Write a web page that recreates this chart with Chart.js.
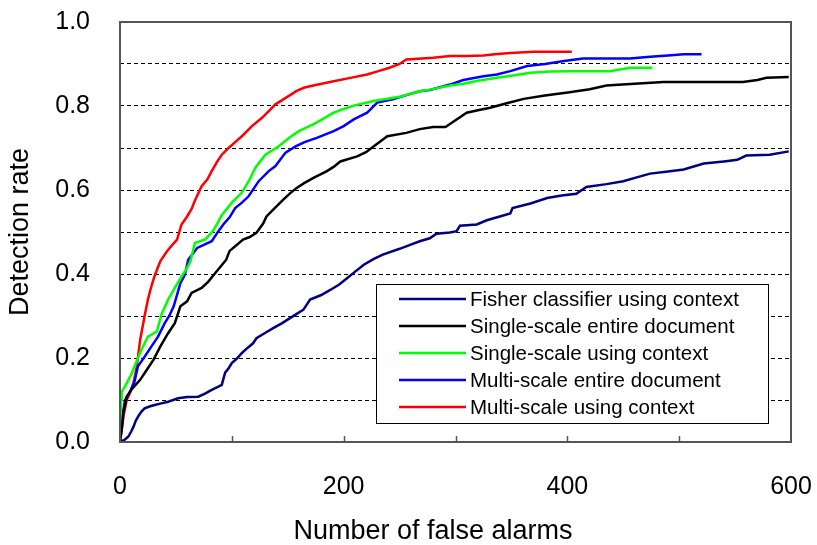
<!DOCTYPE html>
<html>
<head>
<meta charset="utf-8">
<script src="https://cdn.jsdelivr.net/npm/chart.js@4/dist/chart.umd.min.js"></script>
<style>
  body { margin: 0; background: #fff; }
  #wrap { width: 817px; height: 545px; }
</style>
</head>
<body>
<div id="wrap"><canvas id="roc_chart" width="817" height="545"></canvas></div>
<script>
// [false alarms, detection rate]
const fisherContext = [[0,0],[4,0.005],[7.5,0.013],[10,0.025],[12,0.036],[14,0.05],[16,0.06],[19,0.072],[22,0.08],[27,0.085],[31,0.088],[37,0.092],[43,0.096],[52,0.104],[60,0.107],[70,0.108],[76,0.115],[82,0.124],[88,0.132],[91,0.136],[94,0.165],[97,0.175],[100,0.188],[105,0.2],[109,0.212],[114,0.224],[119,0.235],[122,0.247],[130,0.26],[137,0.271],[145,0.283],[152,0.295],[158,0.305],[164,0.315],[170,0.339],[180,0.35],[188,0.362],[196,0.375],[203,0.39],[210,0.405],[218,0.422],[227,0.436],[235,0.446],[250,0.46],[260,0.47],[268,0.478],[277,0.485],[283,0.496],[295,0.499],[301,0.502],[304,0.515],[319,0.518],[328,0.528],[349,0.544],[351,0.557],[367,0.568],[382,0.581],[395,0.587],[408,0.591],[417,0.607],[435,0.614],[450,0.621],[462,0.63],[474,0.639],[490,0.644],[504,0.649],[522,0.663],[540,0.668],[552,0.672],[560,0.682],[581,0.684],[598,0.692]];
const singleEntire = [[0,0],[2,0.04],[3,0.069],[6,0.108],[10,0.124],[14,0.136],[18,0.148],[24,0.172],[30,0.196],[36,0.227],[43,0.259],[49,0.283],[54,0.323],[60,0.335],[64,0.355],[73,0.367],[79,0.382],[85,0.402],[90,0.418],[95,0.434],[98,0.455],[103,0.466],[110,0.482],[116,0.488],[122,0.498],[128,0.52],[131,0.537],[137,0.553],[146,0.577],[152,0.592],[158,0.605],[165,0.617],[173,0.629],[185,0.645],[191,0.655],[197,0.668],[212,0.68],[220,0.69],[227,0.704],[233,0.716],[239,0.728],[256,0.736],[268,0.745],[280,0.75],[291,0.75],[301,0.768],[310,0.784],[320,0.79],[331,0.796],[345,0.806],[361,0.817],[380,0.825],[402,0.833],[420,0.84],[435,0.849],[460,0.853],[486,0.857],[557,0.857],[570,0.862],[578,0.867],[598,0.869]];
const singleContext = [[0,0],[0.5,0.07],[1,0.1],[1.5,0.12],[4,0.13],[7.5,0.148],[10,0.16],[13,0.18],[16,0.2],[19,0.219],[25,0.251],[33,0.263],[37,0.303],[43,0.339],[48,0.362],[55,0.394],[59,0.41],[63,0.43],[67,0.474],[76,0.482],[83,0.502],[87,0.52],[91,0.54],[100,0.57],[109,0.594],[116,0.625],[121,0.653],[130,0.684],[136,0.694],[142,0.704],[151,0.724],[160,0.74],[174,0.758],[182,0.77],[191,0.784],[200,0.793],[209,0.801],[227,0.812],[250,0.822],[268,0.835],[277,0.839],[295,0.849],[307,0.853],[320,0.86],[337,0.867],[350,0.872],[367,0.879],[385,0.882],[402,0.883],[438,0.883],[456,0.891],[476,0.891]];
const multiEntire = [[0,0],[1,0.03],[2,0.06],[4.5,0.1],[9,0.12],[13,0.144],[16,0.18],[22,0.203],[28,0.227],[34,0.251],[40,0.283],[44,0.3],[48,0.323],[54,0.378],[58,0.398],[61,0.434],[69,0.462],[82,0.478],[88,0.502],[93,0.52],[98,0.535],[103,0.557],[109,0.57],[115,0.585],[124,0.621],[133,0.645],[139,0.657],[148,0.689],[157,0.704],[165,0.714],[176,0.724],[191,0.74],[200,0.752],[209,0.768],[221,0.784],[230,0.808],[244,0.816],[256,0.826],[268,0.835],[277,0.838],[295,0.851],[307,0.862],[325,0.871],[337,0.875],[349,0.883],[364,0.895],[380,0.9],[397,0.907],[414,0.913],[456,0.913],[474,0.917],[490,0.92],[504,0.923],[520,0.923]];
const multiContext = [[0,0],[1.5,0.028],[3,0.06],[6,0.1],[9,0.117],[12,0.14],[15,0.18],[18,0.243],[22,0.3],[25,0.34],[28,0.37],[31,0.396],[36,0.43],[42,0.454],[47,0.47],[51,0.482],[55,0.518],[60,0.537],[64,0.555],[67,0.575],[73,0.609],[78,0.625],[82,0.645],[87,0.668],[91,0.684],[97,0.7],[103,0.714],[109,0.728],[118,0.752],[127,0.772],[133,0.788],[139,0.804],[145,0.814],[151,0.824],[158,0.836],[165,0.844],[175,0.85],[191,0.859],[206,0.867],[221,0.875],[231,0.883],[241,0.891],[250,0.9],[256,0.911],[270,0.913],[280,0.915],[295,0.919],[310,0.919],[325,0.92],[335,0.923],[349,0.926],[370,0.929],[404,0.929]];

const seriesNames = ["Fisher classifier using context", "Single-scale entire document", "Single-scale using context", "Multi-scale entire document", "Multi-scale using context"];
const seriesColors = ["#000080", "#000000", "#00ff00", "#0000ff", "#ff0000"];
const seriesData = [fisherContext, singleEntire, singleContext, multiEntire, multiContext];

const FONT = "'Liberation Sans', Arial, sans-serif";

// frame round the plot + small inward ticks on the x axis
const framePlugin = {
    id: "frame",
    afterDatasetsDraw(chart) {
        const {ctx, chartArea: a, scales} = chart;
        ctx.save();
        ctx.strokeStyle = "#555";
        ctx.lineWidth = 1.5;
        ctx.beginPath();
        scales.x.ticks.forEach(t => {
            if (t.value <= 0 || t.value >= 600) return;
            const px = Math.round(scales.x.getPixelForValue(t.value)) + 0.5;
            ctx.moveTo(px, a.bottom);
            ctx.lineTo(px, a.bottom - 6);
        });
        ctx.stroke();
        ctx.lineWidth = 2;
        ctx.strokeRect(a.left, a.top, a.right - a.left, a.bottom - a.top);
        ctx.restore();
    }
};

// legend box inside the plot, bottom right
const boxLegend = {
    id: "boxLegend",
    afterDatasetsDraw(chart) {
        const {ctx, chartArea: a} = chart;
        const w = 392, h = 139;
        const x0 = a.right - 23 - w, y0 = a.bottom - 19 - h;
        ctx.save();
        ctx.fillStyle = "#fff";
        ctx.fillRect(x0, y0, w, h);
        ctx.strokeStyle = "#000";
        ctx.lineWidth = 1;
        ctx.strokeRect(x0 + 0.5, y0 + 0.5, w, h);
        ctx.font = "20.5px " + FONT;
        ctx.textBaseline = "middle";
        chart.data.datasets.forEach((ds, i) => {
            const y = y0 + 15 + i * 27;
            ctx.strokeStyle = ds.borderColor;
            ctx.lineWidth = 2.5;
            ctx.beginPath();
            ctx.moveTo(x0 + 23, y);
            ctx.lineTo(x0 + 90, y);
            ctx.stroke();
            ctx.fillStyle = "#000";
            ctx.fillText(ds.label, x0 + 94, y + 1);
        });
        ctx.restore();
    }
};

let ctxEl = document.getElementById("roc_chart");
let rocChart = new Chart(ctxEl, {
    type: "line",
    data: {
        datasets: seriesData.map((pts, i) => ({
            label: seriesNames[i],
            data: pts.map(p => ({x: p[0], y: p[1]})),
            borderColor: seriesColors[i],
            backgroundColor: seriesColors[i],
            borderWidth: 2.5,
            pointRadius: 0,
            tension: 0,
            fill: false
        }))
    },
    options: {
        responsive: false,
        animation: false,
        layout: { padding: { left: 5, right: 26, top: 22, bottom: 0 } },
        plugins: {
            legend: { display: false },
            tooltip: { enabled: false }
        },
        scales: {
            x: {
                type: "linear",
                min: 0,
                max: 600,
                // invisible tick marks keep the labels 30px below the axis
                grid: { display: true, drawOnChartArea: false, drawTicks: true, tickLength: 30, tickColor: "rgba(0,0,0,0)" },
                border: { display: false },
                ticks: {
                    stepSize: 100,
                    autoSkip: false,
                    maxRotation: 0,
                    padding: 0,
                    color: "#000",
                    font: { family: FONT, size: 25 },
                    callback: v => (v % 200 === 0 ? String(v) : "")
                },
                title: {
                    display: true,
                    text: "Number of false alarms" + "\u00a0".repeat(6),
                    color: "#000",
                    font: { family: FONT, size: 27, lineHeight: 1 },
                    padding: { top: 16, bottom: 0 }
                }
            },
            y: {
                min: 0,
                max: 1,
                grid: { color: "#000", lineWidth: 1, drawTicks: true, tickLength: 30, tickColor: "rgba(0,0,0,0)" },
                border: { display: false, dash: [4, 3] },
                ticks: {
                    stepSize: 0.1,
                    autoSkip: false,
                    padding: 0,
                    color: "#000",
                    font: { family: FONT, size: 25 },
                    callback: v => (Math.round(v * 10) % 2 === 0 ? v.toFixed(1) : "")
                },
                title: {
                    display: true,
                    text: "Detection rate",
                    color: "#000",
                    font: { family: FONT, size: 27, lineHeight: 1 },
                    padding: { top: 2.5, bottom: 20.75 }
                }
            }
        }
    },
    plugins: [framePlugin, boxLegend]
});
</script>
</body>
</html>
